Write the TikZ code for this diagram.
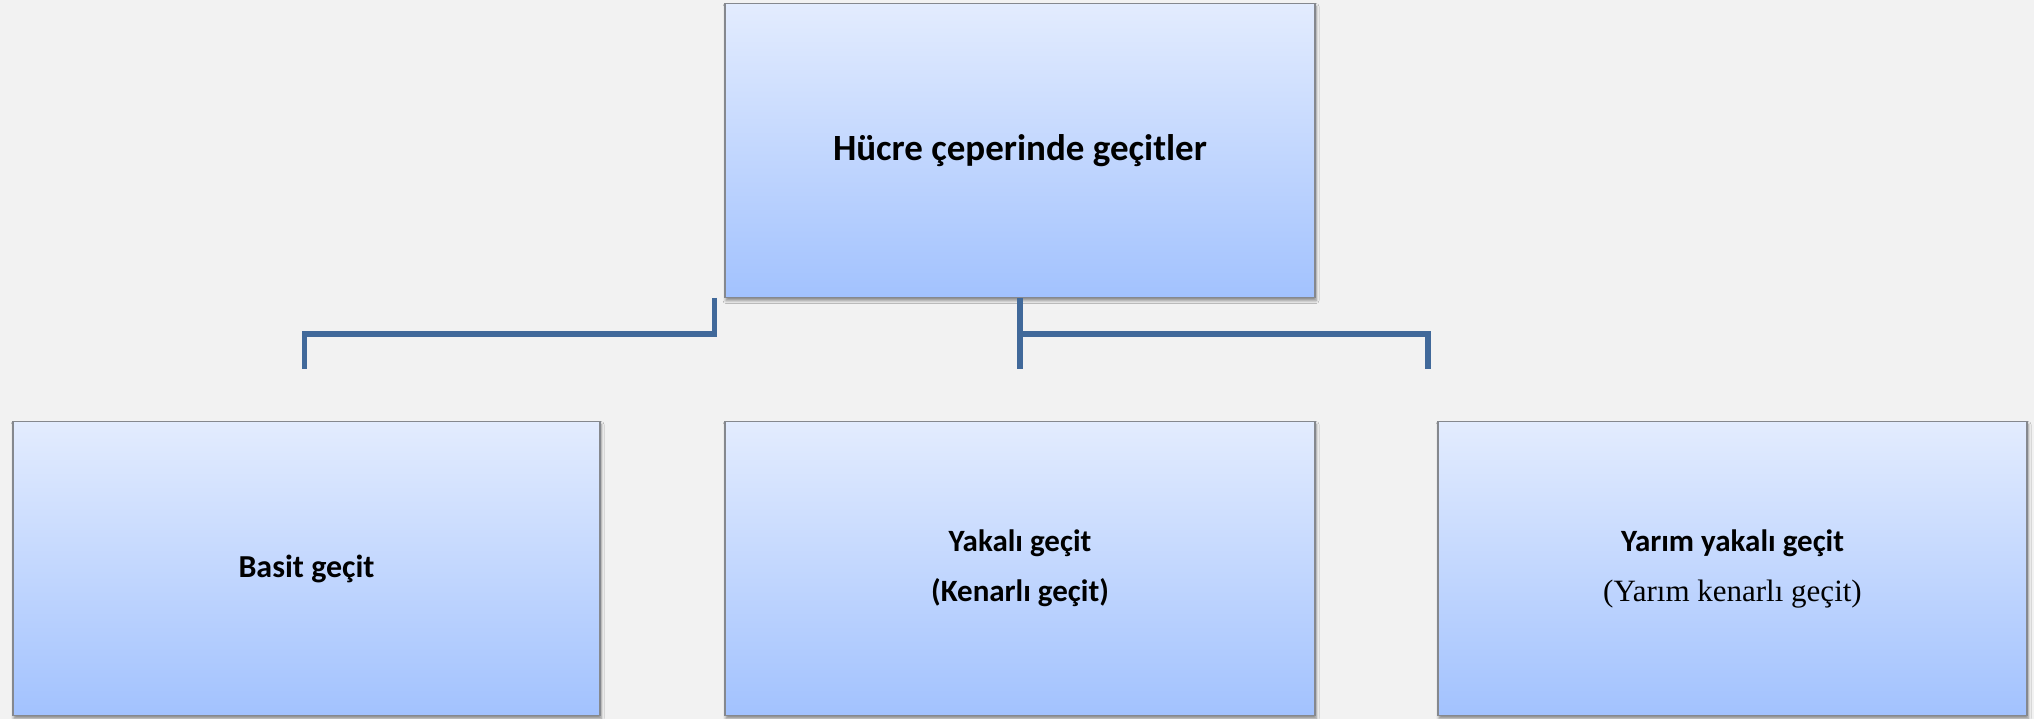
\documentclass[tikz,border=0pt]{standalone}
\usepackage{fontspec}
\setmainfont{Carlito}
\newfontfamily\timesfont{Liberation Serif}
\usetikzlibrary{shadows.blur}
\definecolor{bgc}{HTML}{F2F2F2}
\definecolor{boxtop}{HTML}{E3ECFE}
\definecolor{boxbot}{HTML}{A2C2FE}
\definecolor{boxline}{HTML}{85888E}
\definecolor{conn}{HTML}{41699A}
\tikzset{
  gbox/.style={rectangle, inner sep=0pt, minimum width=590pt, minimum height=294pt,
    top color=boxtop, bottom color=boxbot, draw=boxline, line width=1.6pt,
    blur shadow={shadow xshift=1pt, shadow yshift=-3pt, shadow blur radius=3pt, shadow opacity=45},
    align=center, font=\fontsize{31}{50}\selectfont\bfseries},
  connline/.style={draw=conn, line width=5.5pt, line join=miter, line cap=butt}
}
\begin{document}
\begin{tikzpicture}[x=1pt,y=-1pt]
\fill[bgc] (0,0) rectangle (2034,719);
\useasboundingbox (0,0) rectangle (2034,719);
\node[gbox, font=\fontsize{37}{44}\selectfont\bfseries] (top) at (1020,150.5) {Hücre çeperinde geçitler};
\node[gbox, minimum width=587pt, font=\fontsize{32}{50}\selectfont\bfseries] (basit) at (306.5,568.5) {Basit geçit};
\node[gbox] (yakali) at (1020,568.5) {Yakalı geçit\\(Kenarlı geçit)};
\node[gbox, minimum width=589pt] (yarim) at (1732.5,568.5) {Yarım yakalı geçit\\{\timesfont\mdseries\fontsize{31}{50}\selectfont(Yarım kenarlı geçit)}};
\coordinate (l1) at (714.5,298);
\coordinate (l2) at (714.5,334);
\coordinate (l3) at (304.5,334);
\coordinate (l4) at (304.5,369);
\coordinate (m2) at (1020,334);
\coordinate (m4) at (1020,369);
\coordinate (r3) at (1428,334);
\coordinate (r4) at (1428,369);
\draw[connline] (l1) -- (l2) -- (l3) -- (l4);
\draw[connline] (top.south) -- (m4);
\draw[connline] (m2) -- (r3) -- (r4);
\end{tikzpicture}
\end{document}
